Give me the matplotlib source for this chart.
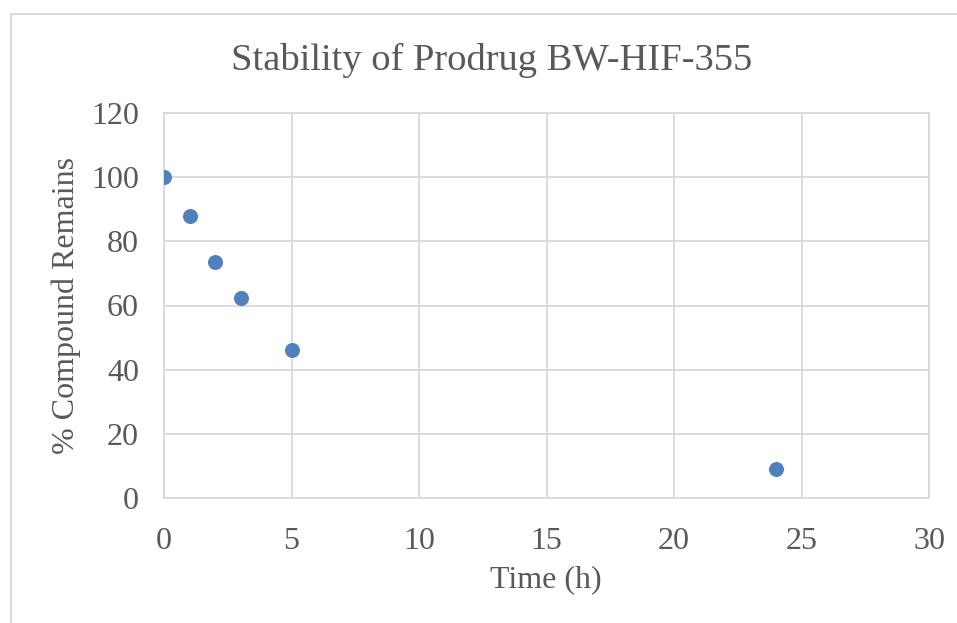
import matplotlib
matplotlib.use("Agg")
import matplotlib.pyplot as plt
from matplotlib.patches import Rectangle

time_h = [0, 1, 2, 3, 5, 24]
remains = [100, 88, 73.7, 62.3, 46.1, 9.0]
x_ticks = [0, 5, 10, 15, 20, 25, 30]
y_ticks = [0, 20, 40, 60, 80, 100, 120]

text_color = "#595959"
grid_color = "#D9D9D9"
plt.rcParams["font.family"] = ["Liberation Serif", "DejaVu Serif"]

W, H = 957, 623
fig = plt.figure(figsize=(W / 100, H / 100), dpi=100)
ax = fig.add_axes([164 / W, 1 - 498 / H, (929 - 164) / W, (498 - 113) / H])

ax.scatter(time_h, remains, s=10.8 ** 2, color="#4F81BD", zorder=3, linewidths=0)

ax.set_xlim(0, 30)
ax.set_ylim(0, 120)
ax.set_xticks(x_ticks)
ax.set_yticks(y_ticks)
ax.grid(True, color=grid_color, linewidth=1.3)
ax.set_axisbelow(True)
for s in ax.spines.values():
    s.set_color(grid_color)
    s.set_linewidth(1.3)
ax.tick_params(length=0, labelsize=23, colors=text_color, pad=18)
ax.tick_params(axis="x", pad=21)

fig.text(492 / W, 1 - 60 / H, "Stability of Prodrug BW-HIF-355", ha="center", va="center",
         fontsize=27.7, color=text_color)
fig.text(546 / W, 1 - 580 / H, "Time (h)", ha="center", va="center",
         fontsize=23, color=text_color)
fig.text(66 / W, 1 - 305 / H, "% Compound Remains", ha="center", va="center",
         rotation=90, fontsize=23, color=text_color)

# chart frame
fig.patches.append(Rectangle((11 / W, -0.1), 1.2, 1 - 14 / H + 0.1, transform=fig.transFigure,
                             fill=False, edgecolor=grid_color, linewidth=1.3))

fig.savefig("out.png", dpi=100)
